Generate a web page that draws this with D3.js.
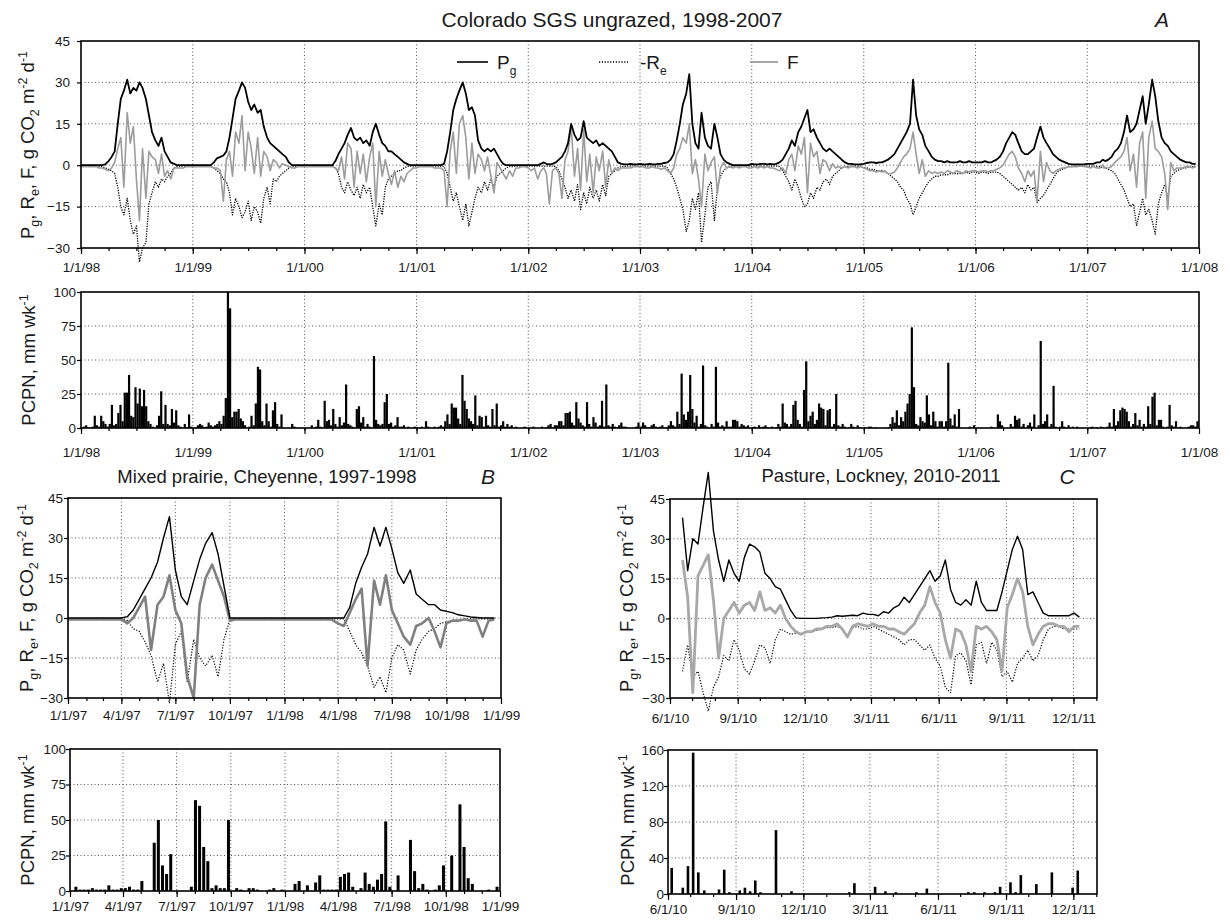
<!DOCTYPE html>
<html>
<head>
<meta charset="utf-8">
<script src="https://cdn.jsdelivr.net/npm/d3@7"></script>
<style>
  body { margin: 0; background: #fff; }
  svg { display: block; }
  text { font-family: "Liberation Sans", Arial, sans-serif; fill: #1a1a1a; }
</style>
</head>
<body>
<svg id="chart" width="1230" height="920"></svg>
<script>
// ---------- data ----------
// Panel A: Colorado SGS, one row per year (1998-2007), values on the 1st, 11th and 21st of each month
const aYears = [1998, 1999, 2000, 2001, 2002, 2003, 2004, 2005, 2006, 2007];
const aPg = [
  [0,0,0,0,0,0,0,0,0.3, 1.5,3,5, 15,24,27, 31,26,28, 27,30,28, 24,18,12, 9,7,10, 5,3,1, 0.5,0,0, 0,0,0],
  [0,0,0,0,0,0,0, 1,2.5,3,3.5,5, 10,17,24, 27,30,28, 23,20,22, 19,20,14, 10,8,7, 6,5,4, 3,1,0, 0,0,0],
  [0,0,0,0,0,0,0,0,0,0, 1.5,4,6, 8,11,13.5, 10,9,10, 8,9,7, 12,15,11, 8,7,5, 5,4,3, 2,1,0.5, 0,0],
  [0,0,0,0,0,0,0,0,0, 0.5,5,12, 20,24,27, 30,26,20, 21,18,9, 6,5,6, 5,6,4, 2,0.5,0, 0,0,0,0,0,0],
  [0,0,0,0,0.5,1,0.5,0.3,0.5, 1,2,3, 5,8,15, 11,9,10, 16,10,9, 8,9,7, 8,7,6, 5,3,1, 0.5,0.3,0.3,0.5,0.3,0.3],
  [0.5,0.3,0.3,0.5,0.3,0.3,0.5,0.5,0.8, 1,2,4, 9,15,22, 26,33,15, 8,6,19, 10,7,6, 15,10,4, 2,1,0.5, 0,0,0,0,0,0],
  [0.5,0.3,0.3,0.5,0.5,0.3,0.5,0.3,0.5, 1,2,4, 6,9,7, 12,14,17, 20,12,13, 10,8,6, 5,6,5, 4,3,2, 1,0.5,0.5,0.3,0.3,0.3],
  [0.5,0.8,1,1,0.8,1,1,1.5,2, 3,4,6, 8,10,12, 15,31,18, 13,11,7, 5,3,2, 1.5,1.5,1, 1.5,1,1, 1,1.5,1,1,1.5,1],
  [1,1,1,1.5,1,1,1.5,2,3, 5,8,10, 12,11,8, 5,4,4, 5,6,10, 14,10,8, 6,4,3, 2,1.5,1, 0.5,0.3,0.3,0.3,0.3,0.3],
  [0.5,0.5,0.5,1,1,2,1.5,2,3, 5,6,8, 12,18,12, 13,15,20, 25,15,22, 31,25,16, 10,8,7, 5,4,3, 2,1.5,1,1,0.5,0.5]
];
const aRe = [
  [-0.3,-0.3,-0.3,-0.3,-0.3,-0.3,-0.5,-0.5,-1, -1.5,-2,-3, -8,-15,-18, -12,-20,-25, -22,-35,-30, -28,-14,-10, -6,-8,-5, -6,-4,-3, -1,-0.5,-0.5, -0.3,-0.3,-0.3],
  [-0.3,-0.3,-0.3,-0.3,-0.3,-0.3,-0.5, -1,-2,-3,-5,-6, -10,-18,-12, -15,-19,-17, -13,-20,-15, -17,-21,-12, -8,-14,-5, -6,-4,-3, -2,-1,-0.5, -0.3,-0.3,-0.3],
  [-0.3,-0.3,-0.3,-0.3,-0.3,-0.3,-0.3,-0.3,-0.3,-0.3, -1,-3,-8, -10,-6,-9, -11,-8,-12, -7,-10,-8, -15,-22,-14, -18,-8,-5, -4,-3,-2, -2,-1,-0.5, -0.3,-0.3],
  [-0.3,-0.3,-0.3,-0.3,-0.3,-0.3,-0.3,-0.3,-0.3, -0.5,-3,-8, -13,-10,-15, -20,-14,-22, -17,-12,-8, -10,-6,-9, -5,-8,-4, -3,-2,-1, -0.5,-0.5,-0.3,-0.3,-0.3,-0.3],
  [-0.3,-0.3,-0.3,-0.3,-0.3,-0.3,-0.3,-0.3,-0.3, -0.5,-2,-5, -8,-12,-9, -13,-7,-16, -10,-14,-8, -12,-9,-13, -7,-11,-4, -3,-2,-1, -0.5,-0.5,-0.3,-0.3,-0.3,-0.3],
  [-0.3,-0.3,-0.3,-0.3,-0.3,-0.3,-0.3,-0.3,-0.3, -1,-3,-5, -8,-12,-16, -24,-20,-12, -16,-10,-28, -18,-8,-6, -20,-8,-4, -2,-1,-0.5, -0.3,-0.3,-0.3,-0.3,-0.3,-0.3],
  [-0.3,-0.3,-0.3,-0.3,-0.3,-0.3,-0.3,-0.3,-0.3, -0.5,-2,-4, -6,-9,-5, -8,-12,-15, -14,-10,-12, -8,-9,-6, -5,-7,-4, -3,-2,-1, -0.5,-0.5,-0.3,-0.3,-0.3,-0.3],
  [-1,-1,-1.5,-1.5,-2,-2,-2,-2.5,-3, -4,-5,-6, -8,-9,-12, -14,-18,-15, -12,-10,-8, -6,-5,-4, -4,-3.5,-3.5, -3.5,-3,-3, -3,-3,-3,-2.5,-3,-2.5],
  [-2.5,-3,-2.5,-2.5,-3,-2.5,-2.5,-2.5,-3, -4,-5,-6, -7,-8,-9, -8,-10,-7, -9,-8,-13.5, -12,-11,-9, -7,-5,-3, -2,-1.5,-1, -0.5,-0.5,-0.3,-0.3,-0.3,-0.3],
  [-0.3,-0.3,-0.3,-0.5,-0.5,-1,-1,-1.5,-2, -3,-5,-7, -9,-12,-15, -14,-22,-17, -12,-18,-16, -20,-25,-14, -10,-7,-12, -4,-3,-2, -1.5,-1,-1,-0.5,-0.5,-0.5]
];
const aF = [
  [-0.5,-0.5,-0.5,-0.5,-0.5,-0.5,-1,-1,-1.5, -2,-1,1, 6,10,-8, 19,8,14, -5,-20,6, -12,5,3, 2,-3,4, -4,-2,-5, -1,-1,-1, -1,-0.5,-0.5],
  [-0.5,-0.5,-0.5,-0.5,-0.5,-0.5,-0.5, -1,-1,-2,-13,2, 5,-4,12, 8,18,-2, 12,6,-3, 10,-4,5, 3,-2,2, 1,-1,0.5, 0,-0.5,-1, -1,-0.5,-0.5],
  [-0.5,-0.5,-0.5,-0.5,-0.5,-0.5,-0.5,-0.5,-0.5,-0.5, -1,-2,3, -5,8,6, -8,5,-3, 4,-6,3, 8,-15,5, -4,2,-3, -7,-2,-8, -4,-6,-3, -2,-1],
  [-1,-0.5,-0.5,-0.5,-0.5,-0.5,-1,-1,-1, -2,-15,5, 12,-3,15, 18,10,-5, 8,-3,4, 2,-2,3, -4,-10,1, -1,-3,-5, -2,-4,-1,-1,-0.5,-0.5],
  [-1,-2,-1,-5,-2,-1,-3,-14,-2, -1,-3,-12, 2,5,14, -4,6,-9, 13,-6,4, -10,3,-2, 5,-8,2, -3,-1,-2, -1,-1,-1,-1,-0.5,-0.5],
  [-0.5,-0.5,-1,-1,-0.5,-1,-1,-1.5,-1, -2,-3,-1, 4,6,10, 8,15,-3, 2,-5,-15, 4,-2,1, 3,-10,-1, 1,-1,-0.5, -1,-0.5,-1,-0.5,-0.5,-1],
  [-1,-0.5,-1,-0.5,-1,-0.5,-1,-1,-1.5, -2,-1,-3, 2,4,-2, 7,4,10, -10,8,3, 5,-3,2, 1,-2,0.5, -1,-0.5,-1, -0.5,-1,-0.5,-0.5,-1,-0.5],
  [-1,-1.5,-2,-2,-2.5,-2,-2.5,-2,-3, -3,-2.5,-1, 1,3,4, 6,12,4, -3,2,-4, -2,-3,-2.5, -3,-2.5,-3, -2,-2.5,-3, -2,-2.5,-3,-2,-2.5,-2],
  [-2,-2.5,-2,-2,-2.5,-2,-2,-1.5,-1, 0,2,4, 5,3,-1, -3,-6,-2, -4,-2,-13, 5,-6,1, -2,-3,-2, -1.5,-1,-1, -0.5,-0.5,-0.5,-0.5,-0.3,-0.5],
  [-0.5,-1,-0.5,-1,-1,0,-1,-1,-0.5, 1,2,3, 5,10,-2, 4,-8,8, 12,-12,10, 16,6,5, 3,-3,-16, 1,-2,-1, -1,-1,-0.5,-0.5,-1,-0.5]
];
// weekly precipitation, 52 weeks per year
const aPcpn = [
  [0.5,1,2,0.5,0,1,9,2,1,9,5,3,1, 3,17,2,3,11,17,5,26,26,39,9,8,30, 18,29,16,28,16,5,3,1,0,2,9,27,3, 17,3,2,14,4,13,2,1,0,3,0.5,10,1],
  [0,0.5,2,3,2,0.5,1,4,2,1,2,3,5, 3,9,22,100,88,8,12,12,14,7,5,2,0, 1,9,2,18,45,43,5,2,18,5,1,13,19, 3,1,10,0,0,0,0,3,1,0,0,0,0],
  [0,0,0,2,0,1,6,1,0,20,5,6,2, 14,3,1,8,2,4,32,3,2,1,0,14,16, 4,8,1,3,1,0,53,6,3,2,3,19,25, 3,4,1,2,8,1,1,2,0,1,0,0,1],
  [0.5,0,1,0,5,1,0,0,1,0,1,2,1, 5,10,3,18,15,15,7,3,39,20,14,7,5, 3,24,2,9,8,1,9,2,1,14,2,18,1, 2,5,1,3,1,2,0,1,0,0,0,1,0],
  [0,0,1,0,0,0,1,0,0.5,2,3,0.5,2, 2,5,5,2,11,11,12,4,2,19,7,4,2, 1,19,3,1,8,4,1,2,20,1,32,2,1, 3,1,0.5,2,4,1,1,0,0,0,0,1,4],
  [1,4,2,0.5,0.5,2,3,1,0.5,1,2,0,0.5, 2,5,2,1,12,3,40,10,6,12,39,14,4, 9,1,3,46,2,1,0,3,1,45,4,1,2, 1,5,1,1,6,6,5,1,3,2,1,2,0],
  [0.5,1,0,2,0.5,1,2,0.5,0,1,0,0.5,3, 1,18,4,3,1,3,17,20,6,3,1,28,49, 5,9,12,3,6,18,15,14,2,13,14,1,3, 25,2,1,3,1,0,0.5,3,1,0,2,0.5,0],
  [0.5,0,1,1,0,0.5,0,0,0,0,0,0.5,3, 8,4,13,2,8,5,12,18,25,74,30,3,2, 8,5,4,24,10,2,12,5,1,5,5,1,5, 48,7,2,10,1,14,0,0,0,0,1,0,2],
  [0,0,0,0,0,0,0,1,0,0,10,5,2, 0,0,0,3,1,9,6,7,1,3,0,2,4, 1,10,0,2,64,3,5,10,1,3,31,1,0, 1,5,1,0,2,0,1,0,1,0,0,0,0],
  [0,0.5,1,0,0.5,0,1,0.5,0,1,4,1,14, 2,5,13,15,14,12,5,1,3,11,2,6,1, 3,1,16,3,23,26,2,6,6,1,0,1,17, 2,1,5,0,1,0,0,0,1,2,2,1,5]
];

// Panel B: Mixed prairie, Cheyenne (1997, 1998), same 10-day steps
const bYears = [1997, 1998];
const bPg = [
  [0,0,0,0,0,0,0,0,0,0, 0.5,3,7,11,15,21,30,38,18,8,5,14,22,28,32,24,12,0, 0,0,0,0,0,0,0,0],
  [0,0,0,0,0,0,0,0,0,0,0, 4,13,19,24,34,27,34,26,17,13,18,9,7,5,5,3,2.5,2,1.2,0.8,0.4,0.2, 0,0,0]
];
const bRe = [
  [-0.3,-0.3,-0.3,-0.3,-0.3,-0.3,-0.3,-0.3,-0.3,-0.3, -1,-4,-5,-9,-14,-24,-17,-32,-10,-5,-24,-8,-15,-18,-14,-22,-8,-0.5, -0.3,-0.3,-0.3,-0.3,-0.3,-0.3,-0.3,-0.3],
  [-0.3,-0.3,-0.3,-0.3,-0.3,-0.3,-0.3,-0.3,-0.3,-0.3,-0.3, -5,-10,-13,-18,-26,-22,-28,-15,-10,-12,-21,-12,-8,-5,-4,-2,-1.5,-1,-0.8,-0.5, -0.3,-0.3,-0.3,-0.3,-0.3]
];
const bF = [
  [-0.5,-0.5,-0.5,-0.5,-0.5,-0.5,-0.5,-0.5,-0.5,-0.5, -2,0,4,8,-12,5,8,16,3,-2,-22,-30,5,15,20,14,8,-1, -0.5,-0.5,-0.5,-0.5,-0.5,-0.5,-0.5,-0.5],
  [-0.5,-0.5,-0.5,-0.5,-0.5,-0.5,-0.5,-0.5,-0.5, -2,-3,2,7,11,-18,14,5,16,3,-2,-7,-10,-3,-2,0,-5,-11,-2,-1,-1,-0.5,-1,-1,-7,-1,-0.5]
];
const bPcpn = [
  [0,3,1,1,1,2,1,1,1,4,1,1,2, 2,3,1,1,7,0,0,34,50,18,12,26,0, 0,0,0,3,64,60,31,21,2,4,2,2,50, 0,2,1,0,2,2,1,0,0,1,2,0,1],
  [0,0,5,7,0,4,0,6,11,1,1,1,1, 10,12,13,3,0,2,13,5,3,8,12,49,3, 0,11,0,0,36,14,2,5,1,0,1,4,18, 0,25,0,61,31,9,5,0,0,0,1,0,3]
];

// Panel C: Pasture, Lockney, weekly from 18 June 2010
const cStart = "2010-06-18";
const cPg = [38,18,30,28,42,55,33,22,14,22,17,14,23, 28,27,25,17,15,12,11,7,3,0.2,0,0,0,
  0,0.2,0.3,0.5,1,0.8,1,1.2,1,2,1.5,1.5,1, 2.5,2,4,5,8,6,9,12,15,18,14,16,22,
  11,6,5,7,5,14,6,3,3,3,10,18,26, 31,26,9,10,6,2,1,1,1,1,1,2,0.5];
const cRe = [-20,-10,-22,-20,-28,-35,-26,-22,-14,-16,-8,-12,-19, -21,-16,-10,-11,-17,-8,-4,-5,-6,-5.5,-6,-5,-5,
  -4.5,-4,-3.5,-3.5,-3,-4,-7,-3.5,-3,-4,-4,-3,-4, -5,-6,-7,-8,-10,-8,-8,-10,-12,-10,-15,-18,-26,
  -28,-14,-13,-16,-25,-10,-9,-17,-9,-12,-22,-20,-24, -17,-15,-12,-16,-14,-8,-4,-3,-3,-4,-4,-4,-4];
const cF = [22,8,-28,16,20,24,7,-15,0,3,6,2,5, 6,3,10,3,4,2,5,0,-3,-5,-6,-5,-5,
  -4,-4,-3,-3,-2,-4,-7,-3,-2,-2.5,-3,-2,-3, -3,-4,-4,-5,-6,-4,-2,2,5,12,6,2,-8,
  -15,-4,-5,-10,-20,-3,-4,-3,-5,-8,-20,4,9, 15,10,-3,-10,-6,-3,-2,-2,-3,-3,-5,-3,-3];
const cPcpnDates = ["2010-06-06","2010-06-21","2010-06-28","2010-07-05","2010-07-12","2010-07-20","2010-08-09",
  "2010-08-16","2010-08-23","2010-09-06","2010-09-13","2010-09-20","2010-09-27","2010-10-04","2010-10-25",
  "2010-11-15","2011-02-01","2011-02-08","2011-03-08","2011-03-22","2011-04-05","2011-05-03","2011-05-17",
  "2011-07-12","2011-07-20","2011-08-03","2011-08-17","2011-08-24","2011-09-07","2011-09-14","2011-09-21",
  "2011-10-12","2011-11-02","2011-11-30","2011-12-07"];
const cPcpn = [29,7,31,157,24,4,5, 27,2,4,7,3,15,2,71, 3,2,12,8,3,2,2,6, 2,2,2,2,8,13,2,21, 11,24,7,26];

const cTickDates = ["2010-06-01","2010-09-01","2010-12-01","2011-03-01","2011-06-01","2011-09-01","2011-12-01"];
const fluxTicks = [-30, -15, 0, 15, 30, 45];
const pcpnTicks = [0, 25, 50, 75, 100];
const cPcpnTicks = [0, 40, 80, 120, 160];

// ---------- helpers ----------
const parse = d3.timeParse("%Y-%m-%d");
const fmt = d3.timeFormat("%-m/%-d/%y");
const svg = d3.select("#chart");

// rows of 10-day values -> dated points
function dekads(years, rows) {
    return rows.flatMap((vals, k) => vals.map((v, d) =>
        ({ date: new Date(years[k], Math.floor(d / 3), [1, 11, 21][d % 3]), v })));
}
// rows of weekly totals -> dated points (mid-week)
function weeks(years, rows) {
    return rows.flatMap((vals, k) => vals.map((v, w) =>
        ({ date: d3.timeDay.offset(new Date(years[k], 0, 1), 7 * w + 3), v })));
}

function panel(cfg) {
    const g = svg.append("g");
    const x = d3.scaleTime().domain(cfg.xDomain).range([cfg.left, cfg.right]);
    const y = d3.scaleLinear().domain(cfg.yDomain).range([cfg.bottom, cfg.top]);

    // dotted grid
    g.append("g").selectAll("line")
        .data(cfg.yTicks.filter(t => t > cfg.yDomain[0] && t < cfg.yDomain[1]))
        .join("line")
        .attr("x1", cfg.left).attr("x2", cfg.right)
        .attr("y1", d => y(d)).attr("y2", d => y(d))
        .attr("stroke", "#555").attr("stroke-width", 1).attr("stroke-dasharray", "1,2.5");
    g.append("g").selectAll("line")
        .data(cfg.xTicks.filter(t => x(t) > cfg.left + 1 && x(t) < cfg.right - 1))
        .join("line")
        .attr("x1", d => x(d)).attr("x2", d => x(d))
        .attr("y1", cfg.top).attr("y2", cfg.bottom)
        .attr("stroke", "#555").attr("stroke-width", 1).attr("stroke-dasharray", "1,2.5");

    // axes
    const xa = g.append("g").attr("transform", `translate(0,${cfg.bottom})`)
        .call(d3.axisBottom(x).tickValues(cfg.xTicks).tickFormat(fmt).tickSize(6).tickPadding(cfg.xPad));
    xa.select(".domain").remove();
    const xm = g.append("g").attr("transform", `translate(0,${cfg.bottom})`)
        .call(d3.axisBottom(x).tickValues(cfg.minor).tickFormat("").tickSize(3));
    xm.select(".domain").remove();
    const ya = g.append("g").attr("transform", `translate(${cfg.left},0)`)
        .call(d3.axisLeft(y).tickValues(cfg.yTicks).tickSize(4).tickPadding(cfg.yPad));
    ya.select(".domain").remove();
    [xa, xm, ya].forEach(a => {
        a.attr("font-family", null).attr("font-size", null);
        a.selectAll("text").attr("font-size", 13.5).style("fill", "#1a1a1a");
        a.selectAll("line").attr("stroke", "#000").attr("stroke-width", 1.2);
    });

    const layer = g.append("g");
    g.append("rect")
        .attr("x", cfg.left).attr("y", cfg.top)
        .attr("width", cfg.right - cfg.left).attr("height", cfg.bottom - cfg.top)
        .attr("fill", "none").attr("stroke", "#000").attr("stroke-width", 1.6);
    return { layer, x, y };
}

function drawLine(p, data, color, width, dash) {
    p.layer.append("path")
        .datum(data)
        .attr("fill", "none")
        .attr("stroke", color)
        .attr("stroke-width", width)
        .attr("stroke-linejoin", "round")
        .attr("stroke-dasharray", dash || null)
        .attr("d", d3.line().x(d => p.x(d.date)).y(d => p.y(d.v)));
}

function drawBars(p, data, bw) {
    p.layer.selectAll(null)
        .data(data.filter(d => d.v > 0))
        .join("rect")
        .attr("x", d => p.x(d.date) - bw / 2)
        .attr("width", bw)
        .attr("y", d => p.y(d.v))
        .attr("height", d => p.y(0) - p.y(d.v))
        .attr("fill", "#000");
}

// rotated axis title with sub/superscripts
function yLabel(parts, x, y) {
    const t = svg.append("text")
        .attr("transform", `translate(${x},${y}) rotate(-90)`)
        .attr("text-anchor", "middle")
        .attr("font-size", 18.5);
    let shift = 0;
    parts.forEach(([s, kind]) => {
        const target = kind === "sub" ? 5 : kind === "sup" ? -7 : 0;
        t.append("tspan").attr("dy", target - shift)
            .attr("font-size", kind ? 12.5 : 18.5).text(s);
        shift = target;
    });
}
const fluxLabel = [["P"], ["g", "sub"], [", R"], ["e", "sub"], [", F, g CO"], ["2", "sub"],
                   [" m"], ["-2", "sup"], [" d"], ["-1", "sup"]];
const pcpnLabel = [["PCPN, mm wk"], ["-1", "sup"]];

function title(txt, x, y, size) {
    svg.append("text").attr("x", x).attr("y", y).attr("text-anchor", "middle")
        .attr("font-size", size).text(txt);
}
function letter(txt, x, y) {
    svg.append("text").attr("x", x).attr("y", y).attr("text-anchor", "middle")
        .attr("font-size", 21).attr("font-style", "italic").text(txt);
}

// ---------- panel A ----------
const aDomain = [new Date(1998, 0, 1), new Date(2008, 0, 1)];
const aTicks = d3.timeYear.range(aDomain[0], d3.timeDay.offset(aDomain[1], 1));
const aMinor = d3.timeMonth.every(3).range(aDomain[0], aDomain[1]);

const pA = panel({ left: 81, right: 1199, top: 41, bottom: 248, xDomain: aDomain, yDomain: [-30, 45],
    xTicks: aTicks, minor: aMinor, yTicks: fluxTicks, xPad: 8, yPad: 7 });
drawLine(pA, dekads(aYears, aRe), "#000", 1.3, "1.2,1.3");
drawLine(pA, dekads(aYears, aF), "#9c9c9c", 1.6);
drawLine(pA, dekads(aYears, aPg), "#000", 1.8);

const pAp = panel({ left: 81, right: 1199, top: 292, bottom: 428, xDomain: aDomain, yDomain: [0, 100],
    xTicks: aTicks, minor: aMinor, yTicks: pcpnTicks, xPad: 13, yPad: 1 });
drawBars(pAp, weeks(aYears, aPcpn), 2.2);

title("Colorado SGS ungrazed, 1998-2007", 612, 27, 21);
letter("A", 1162, 27);
yLabel(fluxLabel, 34, 145);
yLabel(pcpnLabel, 35, 360);

// legend
const lg = svg.append("g");
lg.append("line").attr("x1", 457).attr("x2", 488).attr("y1", 62).attr("y2", 62)
    .attr("stroke", "#000").attr("stroke-width", 1.6);
lg.append("line").attr("x1", 599).attr("x2", 628).attr("y1", 62).attr("y2", 62)
    .attr("stroke", "#000").attr("stroke-width", 1.3).attr("stroke-dasharray", "1.2,1.6");
lg.append("line").attr("x1", 750).attr("x2", 778).attr("y1", 62).attr("y2", 62)
    .attr("stroke", "#9c9c9c").attr("stroke-width", 1.8);
const lt1 = lg.append("text").attr("x", 497).attr("y", 69).attr("font-size", 19);
lt1.append("tspan").text("P");
lt1.append("tspan").attr("dy", 6).attr("font-size", 12).text("g");
const lt2 = lg.append("text").attr("x", 640).attr("y", 69).attr("font-size", 19);
lt2.append("tspan").text("-R");
lt2.append("tspan").attr("dy", 6).attr("font-size", 12).text("e");
lg.append("text").attr("x", 787).attr("y", 69).attr("font-size", 19).text("F");

// ---------- panel B ----------
const bDomain = [new Date(1997, 0, 1), new Date(1999, 0, 1)];
const bTicks = d3.timeMonth.every(3).range(bDomain[0], d3.timeDay.offset(bDomain[1], 1));
const bMinor = d3.timeMonth.range(bDomain[0], bDomain[1]);

const pB = panel({ left: 68, right: 501, top: 498, bottom: 698, xDomain: bDomain, yDomain: [-30, 45],
    xTicks: bTicks, minor: bMinor, yTicks: fluxTicks, xPad: 6, yPad: 1 });
drawLine(pB, dekads(bYears, bRe), "#000", 1.2, "1.2,1.6");
drawLine(pB, dekads(bYears, bF), "#808080", 2.6);
drawLine(pB, dekads(bYears, bPg), "#000", 1.4);

const pBp = panel({ left: 70, right: 500, top: 749, bottom: 891, xDomain: bDomain, yDomain: [0, 100],
    xTicks: bTicks, minor: bMinor, yTicks: pcpnTicks, xPad: 4, yPad: 0 });
drawBars(pBp, weeks(bYears, bPcpn), 3);

title("Mixed prairie, Cheyenne, 1997-1998", 267, 483, 18.5);
letter("B", 488, 484);
yLabel(fluxLabel, 33, 598);
yLabel(pcpnLabel, 34, 820);

// ---------- panel C ----------
const cDomain = [parse("2010-06-01"), parse("2012-01-02")];
const cTicks = cTickDates.map(parse);
const cMinor = d3.timeMonth.range(cDomain[0], cDomain[1]);
const cDates = cPg.map((v, i) => d3.timeDay.offset(parse(cStart), 7 * i));

const pC = panel({ left: 670, right: 1097, top: 499, bottom: 698, xDomain: cDomain, yDomain: [-30, 45],
    xTicks: cTicks, minor: cMinor, yTicks: fluxTicks, xPad: 9, yPad: 1 });
drawLine(pC, cRe.map((v, i) => ({ date: cDates[i], v })), "#000", 1.2, "1.2,1.6");
drawLine(pC, cF.map((v, i) => ({ date: cDates[i], v })), "#a8a8a8", 2.8);
drawLine(pC, cPg.map((v, i) => ({ date: cDates[i], v })), "#000", 1.4);

const pCp = panel({ left: 668, right: 1097, top: 750, bottom: 894, xDomain: cDomain, yDomain: [0, 160],
    xTicks: cTicks, minor: cMinor, yTicks: cPcpnTicks, xPad: 4, yPad: 0 });
drawBars(pCp, cPcpnDates.map((d, i) => ({ date: parse(d), v: cPcpn[i] })), 2.6);

title("Pasture, Lockney, 2010-2011", 881, 482, 18.5);
letter("C", 1067, 484);
yLabel(fluxLabel, 633, 598);
yLabel(pcpnLabel, 634, 820);
</script>
</body>
</html>
